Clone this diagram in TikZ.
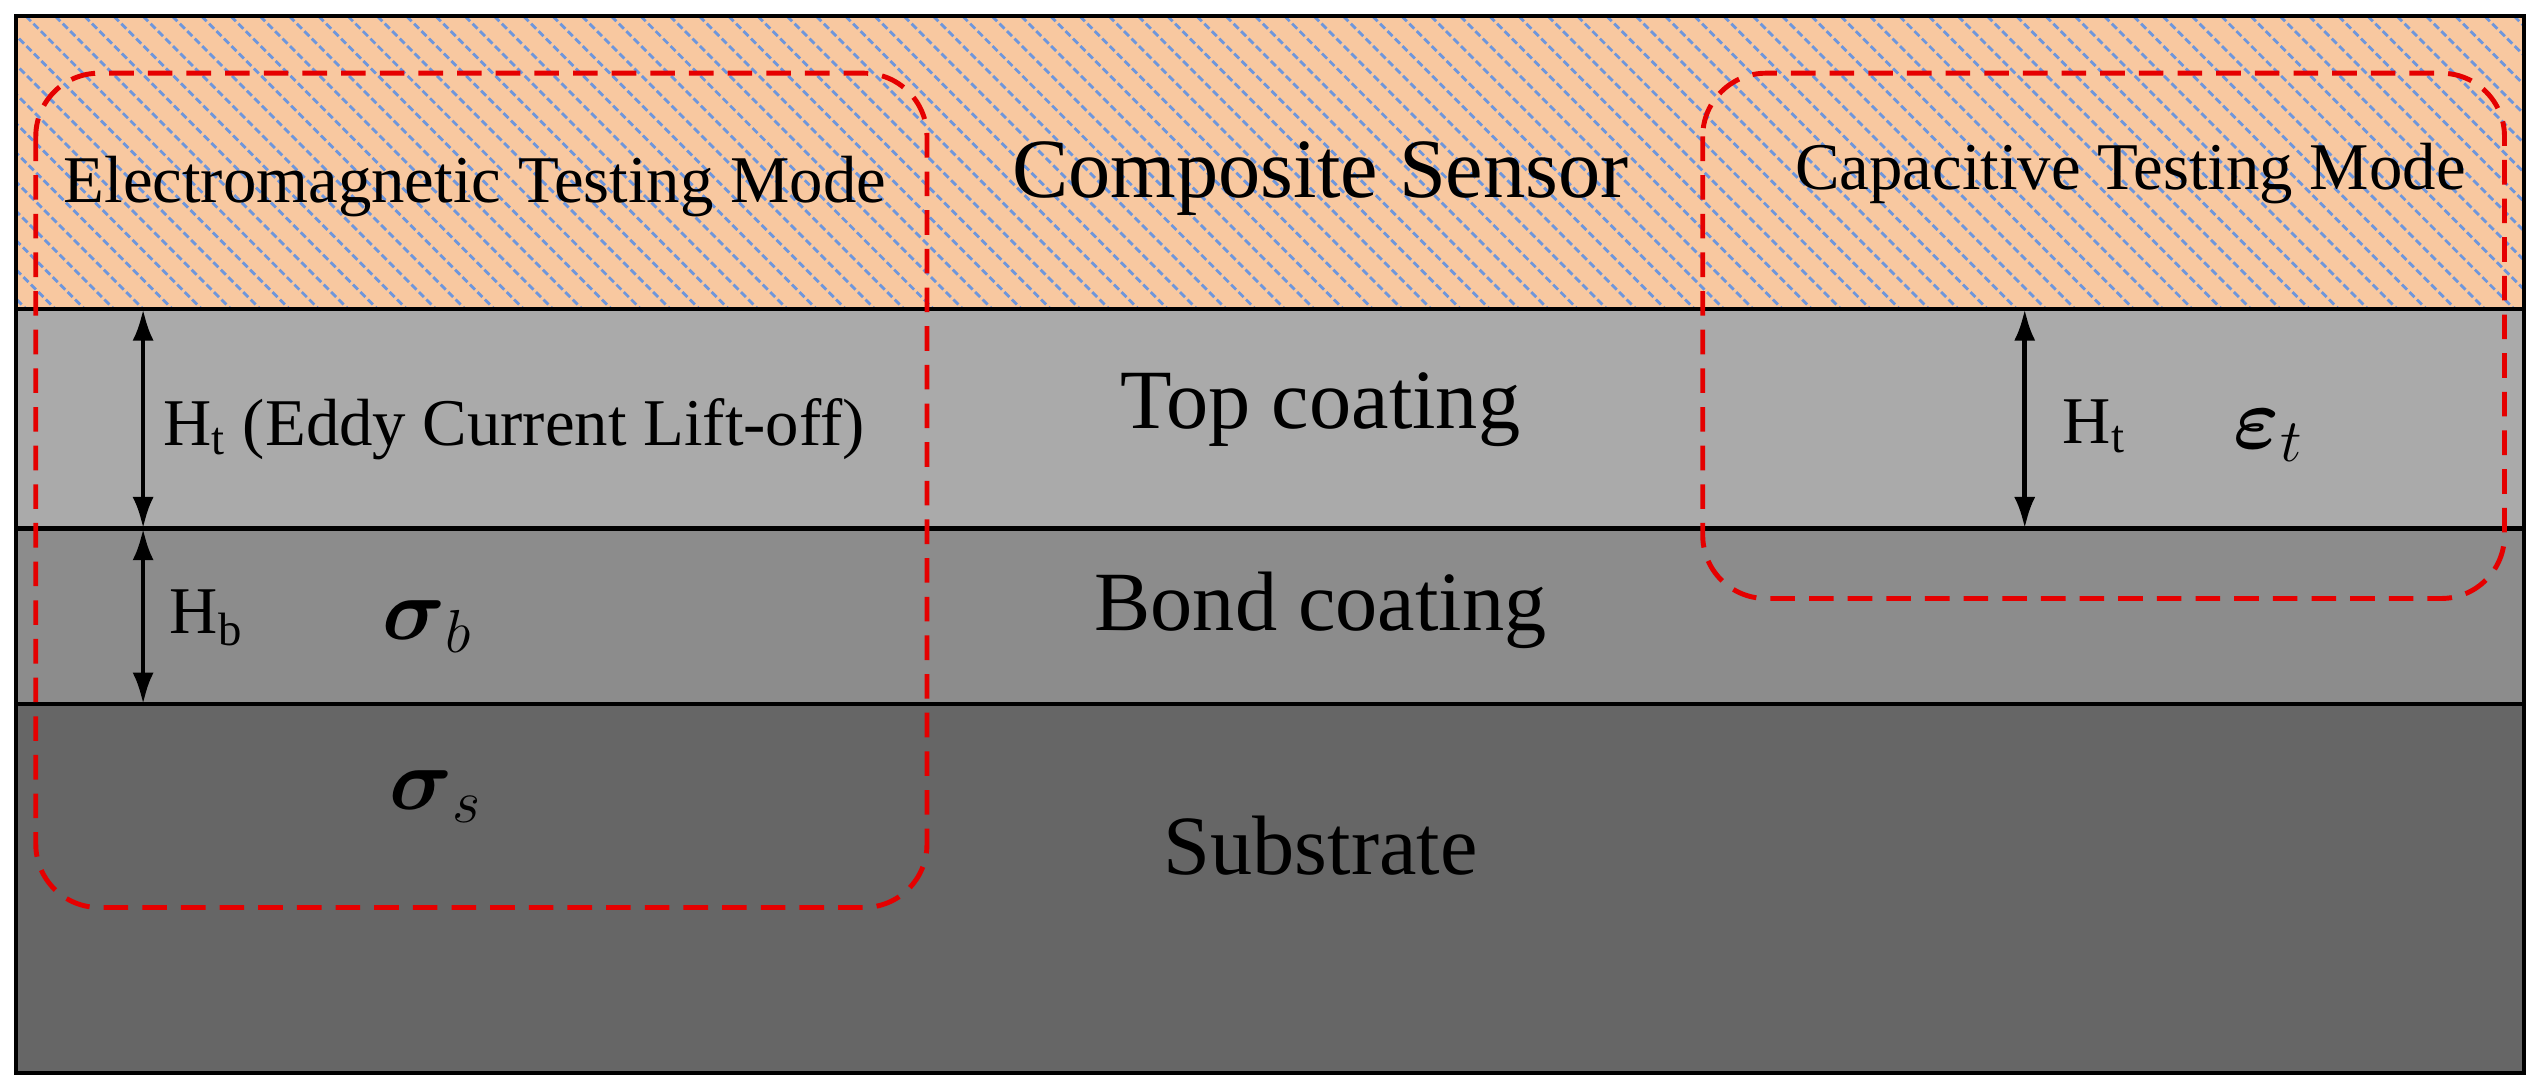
\documentclass[tikz,border=0pt]{standalone}
\usepackage{fontspec}
\usepackage{amsmath}
\usetikzlibrary{arrows.meta}
\setmainfont{Liberation Serif}
\definecolor{peach}{RGB}{248,200,160}
\definecolor{hatch}{RGB}{110,150,220}
\definecolor{gtop}{RGB}{170,170,170}
\definecolor{gbond}{RGB}{140,140,140}
\definecolor{gsub}{RGB}{102,102,102}
\begin{document}
\begin{tikzpicture}[x=0.01626cm,y=-0.01626cm,
  zone/.style={draw=red!90!black,dash pattern=on 7pt off 4pt,line width=1.4pt,rounded corners=18pt},
  dim/.style={line width=1.3pt,{Latex[length=9pt,width=6pt]}-{Latex[length=9pt,width=6pt]}},
  lbl/.style={inner sep=0pt,font=\fontsize{19}{22}\selectfont},
  big/.style={inner sep=0pt,font=\fontsize{24}{28}\selectfont},
  grk/.style={inner sep=0pt,font=\fontsize{27}{30}\selectfont}]
\useasboundingbox (0,0) rectangle (1560,671);
\fill[peach] (10,10) rectangle (1552,190);
\begin{scope}
\clip (10,10) rectangle (1552,190);
\foreach \i in {-200,-182,...,1560} \draw[hatch,line width=0.8pt,dash pattern=on 2pt off 1pt] (\i,10) -- (\i+180,190);
\end{scope}
\fill[gtop] (10,190) rectangle (1552,325);
\fill[gbond] (10,325) rectangle (1552,433);
\fill[gsub] (10,433) rectangle (1552,660);
\draw[line width=1.2pt] (10,10) rectangle (1552,660);
\draw[line width=1.2pt] (10,190) -- (1552,190) (10,325) -- (1552,325) (10,433) -- (1552,433);
\draw[zone] (22,45) rectangle (570,558);
\draw[zone] (1047,45) rectangle (1540,368);
\node[lbl] (em) at (292,115) {Electromagnetic Testing Mode};
\node[big] (cs) at (812,110) {Composite Sensor};
\node[lbl] (ct) at (1310,107) {Capacitive Testing Mode};
\node[big] (tc) at (812,252) {Top coating};
\node[big] (bc) at (812,375) {Bond coating};
\node[big] (sb) at (812,520) {Substrate};
\coordinate (a1) at (88,190); \coordinate (a2) at (88,325); \coordinate (a3) at (88,433);
\draw[dim] (a1) -- (a2); \draw[dim] (a2) -- (a3);
\coordinate (b1) at (1245,190); \coordinate (b2) at (1245,325);
\draw[dim] (b1) -- (b2);
\node[lbl,anchor=west] (ht) at (100,264) {H\textsubscript{t} (Eddy Current Lift-off)};
\node[lbl,anchor=west] (hb) at (104,380) {H\textsubscript{b}};
\node[grk] (sgb) at (263,385) {$\boldsymbol{\sigma}_b$};
\node[grk] (sgs) at (268,490) {$\boldsymbol{\sigma}_s$};
\node[lbl,anchor=west] (ht2) at (1268,262) {H\textsubscript{t}};
\node[grk] (et) at (1395,268) {$\boldsymbol{\varepsilon}_t$};
\end{tikzpicture}
\end{document}
